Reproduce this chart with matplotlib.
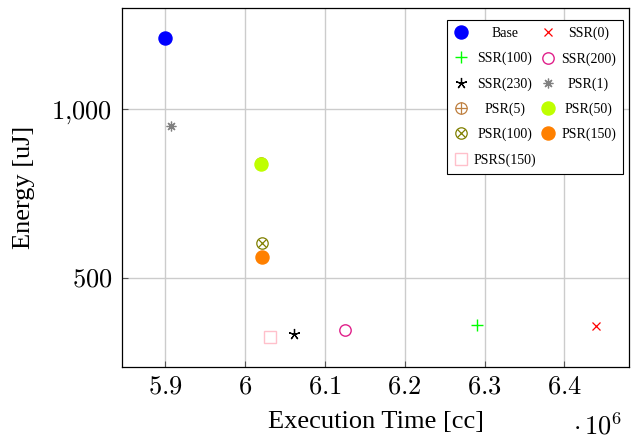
import matplotlib.pyplot as plt
from matplotlib.legend_handler import HandlerTuple
from matplotlib.ticker import FuncFormatter

plt.rcParams['mathtext.fontset'] = 'cm'
plt.rcParams['font.family'] = ['Liberation Serif', 'DejaVu Serif']

# execution time (x1e6 cc) and energy (uJ) per configuration
labels = ['Base', 'SSR(0)', 'SSR(100)', 'SSR(200)', 'SSR(230)', 'PSR(1)',
          'PSR(5)', 'PSR(50)', 'PSR(100)', 'PSR(150)', 'PSRS(150)']
exec_time = [5.900, 6.440, 6.291, 6.125, 6.062, 5.907,
             6.020, 6.020, 6.021, 6.021, 6.031]
energy = [1210, 357, 360, 346, 335, 951,
          840, 837, 605, 563, 327]

fig = plt.figure(figsize=(6.37, 4.45), dpi=100)
ax = fig.add_axes([0.1915, 0.1753, 0.796, 0.807])

def pt(i, **kw):
    return ax.plot([exec_time[i]], [energy[i]], linestyle='none', **kw)[0]

h = {}
h['Base'] = pt(0, marker='o', color='blue', markersize=9.4)
h['SSR(0)'] = pt(1, marker='x', color='red', markersize=6, markeredgewidth=0.9)
h['SSR(100)'] = pt(2, marker='+', color='#00ff00', markersize=8, markeredgewidth=1.0)
h['SSR(200)'] = pt(3, marker='o', mfc='none', mec='#e0208a', markersize=8.2, markeredgewidth=1.0)
h['SSR(230)'] = pt(4, marker=(5, 2, 0), color='black', markersize=8, markeredgewidth=0.9)
h['PSR(1)'] = pt(5, marker=(8, 2, 0), color='gray', markersize=7, markeredgewidth=0.9)
a = pt(6, marker='o', mfc='none', mec='#bf8040', markersize=8.2, markeredgewidth=0.9)
b = pt(6, marker='+', color='#bf8040', markersize=8.2, markeredgewidth=0.9)
h['PSR(5)'] = (a, b)
h['PSR(50)'] = pt(7, marker='o', color='#bfff00', markersize=9.4)
a = pt(8, marker='o', mfc='none', mec='#808000', markersize=8.2, markeredgewidth=0.9)
b = pt(8, marker='x', color='#808000', markersize=5.8, markeredgewidth=0.9)
h['PSR(100)'] = (a, b)
h['PSR(150)'] = pt(9, marker='o', color='#ff8000', markersize=9.4)
h['PSRS(150)'] = pt(10, marker='s', mfc='none', mec='#ffc0cb', markersize=8.2, markeredgewidth=1.0)

ax.set_xlim(5.846, 6.481)
ax.set_ylim(237, 1300)
ax.set_xticks([5.9, 6.0, 6.1, 6.2, 6.3, 6.4])
ax.set_yticks([500, 1000])
ax.xaxis.set_major_formatter(FuncFormatter(lambda v, p: '$%g$' % round(v, 1)))
ax.yaxis.set_major_formatter(FuncFormatter(lambda v, p: '$1{,}000$' if v == 1000 else '$%d$' % v))
ax.tick_params(direction='in', labelsize=19, length=4, color='#555555', pad=7)
ax.grid(True, color='#cccccc', linewidth=1.0)
ax.set_axisbelow(True)
for s in ax.spines.values():
    s.set_linewidth(0.9)

ax.set_xlabel('Execution Time [cc]', fontsize=19, labelpad=9)
ax.set_ylabel('Energy [uJ]', fontsize=19, labelpad=12)
fig.text(0.900, 0.012, r'$\cdot\,10^6$', fontsize=19, ha='left', va='bottom')

# column-major order so the legend reads row by row
order = ['Base', 'SSR(100)', 'SSR(230)', 'PSR(5)', 'PSR(100)', 'PSRS(150)',
         'SSR(0)', 'SSR(200)', 'PSR(1)', 'PSR(50)', 'PSR(150)']
leg = ax.legend([h[k] for k in order], order, ncol=2, loc='upper right',
                bbox_to_anchor=(0.988, 0.9666),
                prop={'family': 'Liberation Serif', 'size': 10},
                handler_map={tuple: HandlerTuple(ndivide=1, pad=0)},
                fancybox=False, edgecolor='black', framealpha=1,
                borderaxespad=0, handlelength=0.95, columnspacing=0.4,
                labelspacing=0.85, handletextpad=0.45, borderpad=0.5)
leg.get_frame().set_linewidth(0.8)

# centre the labels inside each legend column
fig.canvas.draw()
r = fig.canvas.get_renderer()
texts = leg.get_texts()
w = [t.get_window_extent(r).width for t in texts]
for col in (range(0, 6), range(6, 11)):
    m = max(w[i] for i in col)
    for i in col:
        texts[i].set_x((m - w[i]) / 2)

fig.savefig('out.png', dpi=100)
